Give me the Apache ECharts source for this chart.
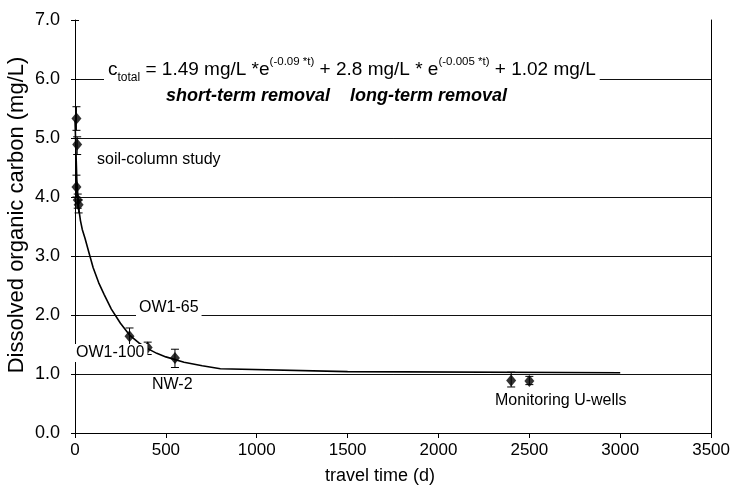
<!DOCTYPE html>
<html><head><meta charset="utf-8">
<script src="https://cdn.jsdelivr.net/npm/echarts@6/dist/echarts.min.js"></script>
<style>html,body{margin:0;padding:0;background:#fff}#c{width:733px;height:492px}</style>
</head><body><div id="c"></div>
<script>
// fitted curve as drawn in the figure
const curveT = [0, 10, 20, 30, 40, 55, 80, 100, 130, 160, 200, 250, 300, 350, 400, 450, 500, 600, 700, 800, 1500, 3000];
const curveC = [5.3, 4.3, 3.82, 3.6, 3.45, 3.3, 3.02, 2.8, 2.55, 2.35, 2.1, 1.86, 1.66, 1.53, 1.43, 1.35, 1.29, 1.2, 1.14, 1.09, 1.04, 1.02];
// measured samples
const sampleT = [8, 12, 8, 15, 20, 300, 400, 550, 2400, 2500];
const sampleC = [5.33, 4.89, 4.17, 3.95, 3.87, 1.64, 1.45, 1.27, 0.89, 0.88];
const errLow  = [5.13, 4.72, 4.00, 3.81, 3.73, 1.50, 1.33, 1.11, 0.78, 0.82];
const errHigh = [5.53, 5.02, 4.37, 4.05, 3.95, 1.78, 1.54, 1.42, 1.03, 0.96];
const xTickStep = 500, xMax = 3500;
const yTickStep = 1, yMax = 7;

const FONT = "'Liberation Sans', Arial, sans-serif";
const chart = echarts.init(document.getElementById('c'));

const errData = sampleT.map((t, i) => [t, errLow[i], errHigh[i]]);
const pts = sampleT.map((t, i) => [t, sampleC[i]]);
const curve = curveT.map((t, i) => [t, curveC[i]]);

function renderErr(params, api) {
  const x = api.value(0), lo = api.value(1), hi = api.value(2);
  const a = api.coord([x, hi]), b = api.coord([x, lo]);
  const w = 4;
  const st = { stroke: '#000', lineWidth: 1 };
  return { type: 'group', children: [
    { type: 'line', shape: { x1: a[0], y1: a[1], x2: b[0], y2: b[1] }, style: st },
    { type: 'line', shape: { x1: a[0] - w, y1: a[1], x2: a[0] + w, y2: a[1] }, style: st },
    { type: 'line', shape: { x1: b[0] - w, y1: b[1], x2: b[0] + w, y2: b[1] }, style: st }
  ]};
}

const lbl = (text, x, y, bg) => ({
  type: 'text', x: x, y: y, z: 100,
  style: { text: text, font: "16px " + FONT, fill: '#000', textAlign: 'left', textVerticalAlign: 'middle',
           backgroundColor: bg ? '#fff' : 'transparent', padding: bg ? [1, 3] : 0 }
});

chart.setOption({
  animation: false,
  backgroundColor: '#fff',
  grid: { left: 75, right: 19, top: 20, bottom: 59, containLabel: false },
  xAxis: {
    type: 'value', min: 0, max: xMax, interval: xTickStep,
    axisLine: { show: true, lineStyle: { color: '#000', width: 1 } },
    axisTick: { show: true, length: 5, lineStyle: { color: '#000' } },
    axisLabel: { color: '#000', fontSize: 17, fontFamily: FONT, margin: 9, formatter: v => String(v) },
    splitLine: { show: false }
  },
  yAxis: [{
    type: 'value', min: 0, max: yMax, interval: yTickStep,
    axisLine: { show: true, onZero: false, lineStyle: { color: '#000', width: 1 } },
    axisTick: { show: true, length: 4, lineStyle: { color: '#000' } },
    axisLabel: { color: '#000', fontSize: 18, fontFamily: FONT, margin: 15, formatter: v => v.toFixed(1) },
    splitLine: { show: true, showMaxLine: false, lineStyle: { color: '#111', width: 1 } }
  }, {
    type: 'value', min: 0, max: yMax, interval: yTickStep, position: 'left', offset: 0,
    axisLine: { show: false }, axisLabel: { show: false }, splitLine: { show: false },
    axisTick: { show: true, inside: true, length: 4, lineStyle: { color: '#000' } }
  }, {
    type: 'value', min: 0, max: yMax, interval: yTickStep, position: 'right', offset: 0,
    axisLine: { show: true, lineStyle: { color: '#000', width: 1 } },
    axisLabel: { show: false }, splitLine: { show: false }, axisTick: { show: false }
  }],
  series: [
    { type: 'line', data: curve, showSymbol: false, symbol: 'none', smooth: false,
      lineStyle: { color: '#000', width: 1.6 }, z: 3 },
    { type: 'custom', data: errData, renderItem: renderErr, encode: { x: 0, y: [1, 2] }, z: 4 },
    { type: 'scatter', data: pts, symbol: 'diamond', symbolSize: [10, 12],
      itemStyle: { color: '#000' }, z: 5 }
  ],
  graphic: [
    { type: 'text', x: 104, y: 70, z: 100,
      style: {
        text: '{m|c}{sub|total}{m| = 1.49 mg/L *e}{sup|(-0.09 *t)}{m| + 2.8 mg/L * e}{sup|(-0.005 *t)}{m| + 1.02 mg/L}',
        textAlign: 'left', textVerticalAlign: 'middle', fill: '#000',
        backgroundColor: '#fff', padding: [0, 4],
        rich: {
          m: { fontSize: 19, fontFamily: FONT, lineHeight: 28, color: '#000' },
          sup: { fontSize: 11.5, fontFamily: FONT, lineHeight: 11, verticalAlign: 'top', color: '#000' },
          sub: { fontSize: 12, fontFamily: FONT, lineHeight: 12, verticalAlign: 'bottom', color: '#000' }
        }
      } },
    { type: 'text', x: 166, y: 96, z: 100,
      style: { text: 'short-term removal    long-term removal', font: 'italic bold 18px ' + FONT,
               fill: '#000', textAlign: 'left', textVerticalAlign: 'middle' } },
    lbl('soil-column study', 97, 160, false),
    lbl('OW1-65', 136, 308, true),
    lbl('OW1-100', 73, 353, true),
    lbl('NW-2', 152, 385, false),
    lbl('Monitoring U-wells', 495, 401, false),
    { type: 'text', x: 380, y: 476, z: 100,
      style: { text: 'travel time (d)', font: '18px ' + FONT, fill: '#000', textAlign: 'center', textVerticalAlign: 'middle' } },
    { type: 'text', x: 17, y: 215, rotation: Math.PI / 2, z: 100,
      style: { text: 'Dissolved organic carbon (mg/L)', font: '22px ' + FONT, fill: '#000', textAlign: 'center', textVerticalAlign: 'middle' } }
  ]
});
</script></body></html>
